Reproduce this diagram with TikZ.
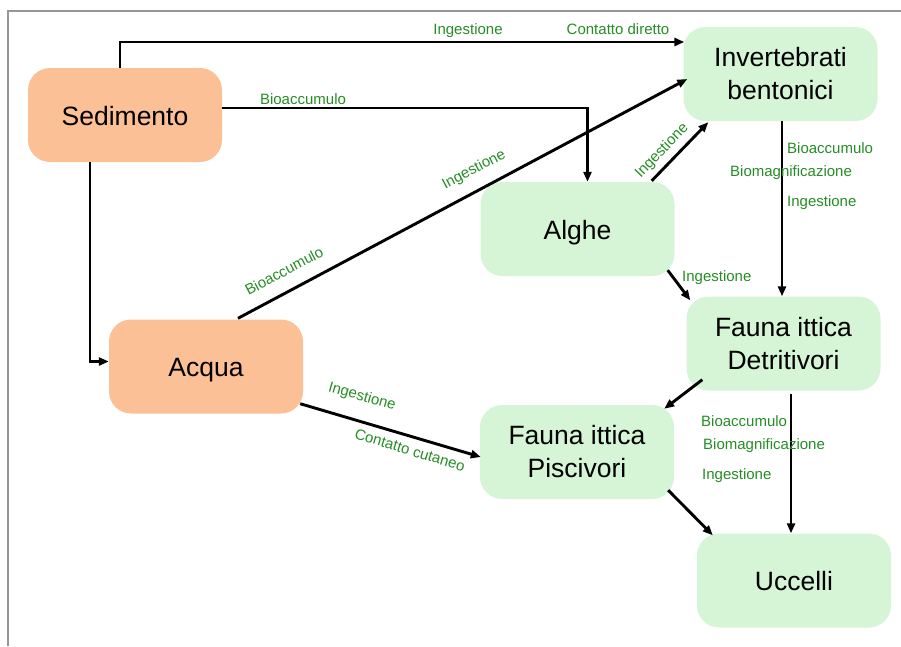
\documentclass[tikz,border=0pt]{standalone}
\usepackage{fontspec}
\setmainfont{Liberation Sans}
\usetikzlibrary{arrows.meta,calc}
\definecolor{peach}{RGB}{252,192,150}
\definecolor{mint}{RGB}{214,244,214}
\definecolor{lbl}{RGB}{38,140,38}
\definecolor{framegray}{RGB}{150,150,150}
\tikzset{
  box/.style={rounded corners=22pt, minimum width=194pt, minimum height=94pt,
    inner sep=0pt, align=center, font=\fontsize{26.5}{33}\selectfont, text=black},
  one/.style={text height=20pt, text depth=0pt},
  src/.style={box, fill=peach},
  bio/.style={box, fill=mint},
  conn/.style={line width=2.9pt, -{Triangle[length=10pt,width=8pt]}},
  lab/.style={text=lbl, font=\fontsize{15}{18}\selectfont, inner sep=0pt},
}
\begin{document}
\begin{tikzpicture}[x=1pt,y=-1pt]
\useasboundingbox (0,0) rectangle (901,646);
\draw[framegray, line width=1.5pt] (8,646) coordinate (fbl) -- (8,11) coordinate (ftl) -- (901,11) coordinate (ftr);

\node[src, one] (sed) at (125,115) {Sedimento};
\node[bio] (inv) at (780.5,74) {Invertebrati\\bentonici};
\node[bio, one] (alg) at (577.5,229) {Alghe};
\node[src, one] (acq) at (206,366.5) {Acqua};
\node[bio] (det) at (783.5,343.5) {Fauna ittica\\Detritivori};
\node[bio] (pis) at (577,452) {Fauna ittica\\Piscivori};
\node[bio, one] (ucc) at (794,580.5) {Uccelli};

% Sedimento -> Invertebrati
\draw[conn] ([xshift=-5pt]sed.north) |- ([xshift=1pt,yshift=32pt]inv.west);
% Sedimento -> Alghe
\draw[conn] ([yshift=7pt]sed.east) -| ([xshift=10pt]alg.north);
% Sedimento -> Acqua
\draw[conn] ([xshift=-35pt]sed.south) |- ([yshift=5pt]acq.west);
% Acqua -> Invertebrati
\draw[conn] ([xshift=32pt,yshift=1pt]acq.north) -- ([xshift=4pt,yshift=-5pt]inv.west);
% Alghe -> Invertebrati
\draw[conn] ([xshift=-23pt,yshift=1pt]alg.north east) -- ([xshift=25pt,yshift=-1pt]inv.south west);
% Invertebrati -> Detritivori
\draw[conn] ([xshift=1.5pt]inv.south) -- ([xshift=1.5pt]inv.south |- det.north);
% Alghe -> Detritivori
\draw[conn] ([xshift=-7pt,yshift=6pt]alg.south east) -- ([xshift=4pt,yshift=-4pt]det.north west);
% Detritivori -> Piscivori
\draw[conn] ([xshift=16pt,yshift=11pt]det.south west) -- ([xshift=-10pt,yshift=-4pt]pis.north east);
% Detritivori -> Uccelli
\draw[conn] ([xshift=7.5pt,yshift=-3pt]det.south) -- ([xshift=7.5pt]det.south |- ucc.north);
% Piscivori -> Uccelli
\draw[conn] ([xshift=-6pt,yshift=9pt]pis.south east) -- ([xshift=16pt,yshift=-2pt]ucc.north west);
% Acqua -> Piscivori
\draw[conn] ([xshift=-3pt,yshift=10pt]acq.south east) -- ([xshift=1pt,yshift=-5pt]pis.west);

% labels
\node[lab] (l1) at (468,31) {Ingestione};
\node[lab] (l2) at (618,29) {Contatto diretto};
\node[lab] (l3) at (303,99) {Bioaccumulo};
\node[lab, rotate=28] (l4) at (284,271) {Bioaccumulo};
\node[lab, rotate=28] (l5) at (474,170) {Ingestione};
\node[lab, rotate=46] (l6) at (662,151) {Ingestione};
\node[lab, anchor=west] (l7) at (787,148) {Bioaccumulo};
\node[lab, anchor=west] (l8) at (730,173) {Biomagnificazione};
\node[lab, anchor=west] (l9) at (787,203) {Ingestione};
\node[lab, anchor=west] (l10) at (682,278) {Ingestione};
\node[lab, anchor=west] (l11) at (701,421) {Bioaccumulo};
\node[lab, anchor=west] (l12) at (703,446) {Biomagnificazione};
\node[lab, anchor=west] (l13) at (702,476) {Ingestione};
\node[lab, rotate=-16] (l14) at (362,397) {Ingestione};
\node[lab, rotate=-17] (l15) at (410,450) {Contatto cutaneo};
\end{tikzpicture}
\end{document}
